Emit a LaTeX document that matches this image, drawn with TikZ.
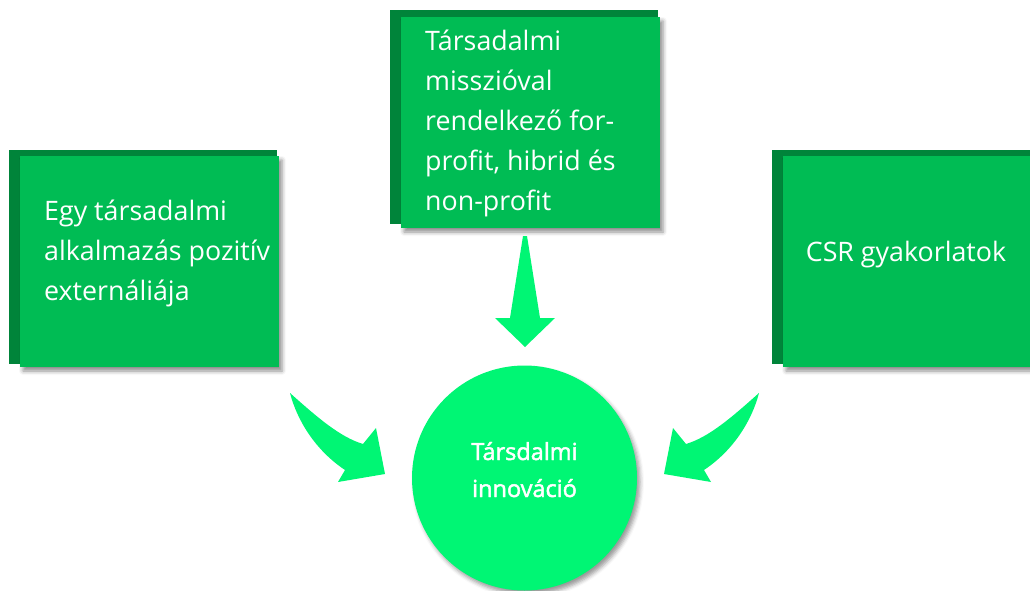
\documentclass[tikz,border=0pt]{standalone}
\usepackage{fontspec}
\setmainfont{Open Sans}
\newfontfamily\centrefont[FakeBold=2]{Open Sans}
\usetikzlibrary{shadows.blur}
\definecolor{boxgreen}{RGB}{0,188,84}
\definecolor{backgreen}{RGB}{0,132,58}
\definecolor{brightgreen}{RGB}{0,246,116}
\begin{document}
\begin{tikzpicture}[x=1pt,y=-1pt,
  backpanel/.style={fill=backgreen, draw=none, inner sep=0pt, outer sep=0pt,
    anchor=north west, minimum width=268pt, minimum height=214pt},
  panel/.style={fill=boxgreen, draw=none, inner sep=0pt, outer sep=0pt,
    anchor=north west, minimum width=259pt, minimum height=211pt,
    blur shadow={shadow xshift=3pt, shadow yshift=-4pt,
      shadow blur radius=4pt, shadow opacity=45}},
  paneltext/.style={text=white, font=\fontsize{26.8}{40}\selectfont,
    align=left, inner sep=0pt},
  hub/.style={circle, fill=brightgreen, draw=none, minimum size=225pt,
    inner sep=0pt, blur shadow={shadow xshift=3pt, shadow yshift=-4pt,
      shadow blur radius=4pt, shadow opacity=40}},
  hubtext/.style={text=white, align=center, inner sep=0pt,
    font=\centrefont\fontsize{23.5}{37}\selectfont},
  flowarrow/.style={fill=brightgreen, draw=none}]
\useasboundingbox (0,0) rectangle (1030,591);

% left panel
\node[backpanel] (leftback) at (9,150) {};
\node[panel] (left) at (20,156) {};
\node[paneltext, anchor=base west] (lefttext) at (44,300)
  {Egy társadalmi\\alkalmazás pozitív\\externáliája};

% top panel
\node[backpanel] (topback) at (390,10) {};
\node[panel] (top) at (401,17) {};
\node[paneltext, anchor=base west] (toptext) at (425,210)
  {Társadalmi\\misszióval\\rendelkező for-\\profit, hibrid és\\non-profit};

% right panel
\node[backpanel] (rightback) at (772,150) {};
\node[panel] (right) at (783,156) {};
\node[paneltext, anchor=base] (righttext) at (906,261) {CSR gyakorlatok};

% central circle
\node[hub] (hub) at (524.5,478) {};
\node[hubtext, anchor=base] (hubtext) at (524.5,497) {Társdalmi\\innováció};

% tapered arrow from the top panel
\fill[flowarrow] (523,236) -- (527,236) -- (540,318) -- (555,318)
  -- (525,347) -- (495,318) -- (510,318) -- cycle;

% curved arrow from the left panel
\fill[flowarrow] (290,393) .. controls (318,418) and (340,437) .. (363,444)
  -- (376,428) -- (385,474) -- (338,482) -- (345,470)
  .. controls (315,450) and (297,420) .. cycle;

% curved arrow from the right panel (mirror image)
\fill[flowarrow] (759,393) .. controls (731,418) and (709,437) .. (686,444)
  -- (673,428) -- (664,474) -- (711,482) -- (704,470)
  .. controls (734,450) and (752,420) .. cycle;
\end{tikzpicture}
\end{document}
